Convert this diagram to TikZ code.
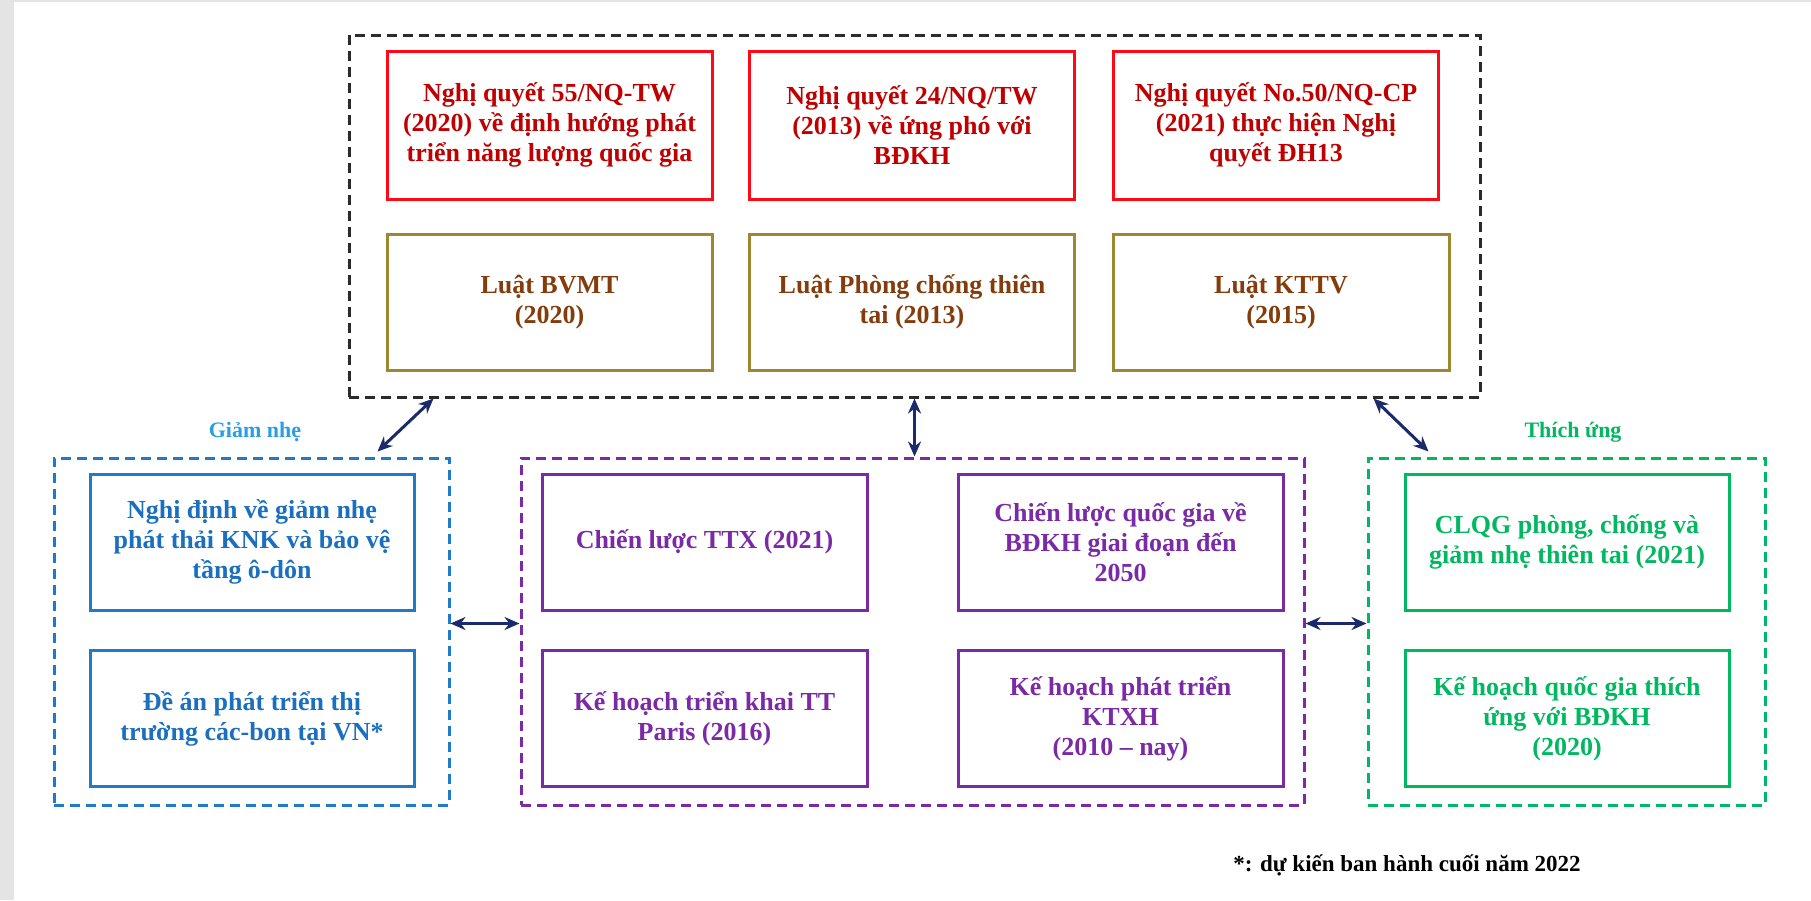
\documentclass[tikz,border=0pt]{standalone}
\usepackage{fontspec}
\setmainfont{Liberation Serif}
\usepackage{tikz}
\usetikzlibrary{arrows.meta}

\definecolor{nenxam}{HTML}{E4E4E4}
\definecolor{vienden}{HTML}{2B2B2B}
\definecolor{viendo}{HTML}{FF0A14}
\definecolor{chudo}{HTML}{C00000}
\definecolor{viennau}{HTML}{9E8633}
\definecolor{chunau}{HTML}{843C0C}
\definecolor{vienxanh}{HTML}{1F7BC8}
\definecolor{chuxanh}{HTML}{1A6FBF}
\definecolor{nhanxanh}{HTML}{2A9EDF}
\definecolor{tim}{HTML}{7B2AA6}
\definecolor{xanhla}{HTML}{00B860}
\definecolor{muitenxanh}{HTML}{1B2A6B}

\begin{document}
\begin{tikzpicture}[x=1pt,y=-1pt,
	khung/.style={draw, line width=3pt, align=center, inner sep=0pt,
		minimum width=325pt, minimum height=136pt,
		font=\bfseries\fontsize{26}{30}\selectfont},
	nhom/.style={draw, line width=3pt, dash pattern=on 10pt off 6pt, inner sep=0pt},
	muiten/.style={{Stealth[length=15pt,width=13pt]}-{Stealth[length=15pt,width=13pt]},
		line width=3pt, muitenxanh}]

	% nen trang
	\useasboundingbox (0,0) rectangle (1811,900);
	\fill[nenxam] (0,0) rectangle (1811,900);
	\fill[white] (14,2) rectangle (1811,900);

	% khung tren: nghi quyet va luat
	\node[nhom, draw=vienden, minimum width=1131pt, minimum height=362pt] (nq) at (914.5,216) {};
	\node[khung, draw=viendo, text=chudo, minimum height=148pt] (nq55) at (549.5,125) {Nghị quyết 55/NQ-TW\\(2020) về định hướng phát\\triển năng lượng quốc gia};
	\node[khung, draw=viendo, text=chudo, minimum height=148pt] (nq24) at (912,125) {Nghị quyết 24/NQ/TW\\(2013) về ứng phó với\\BĐKH};
	\node[khung, draw=viendo, text=chudo, minimum height=148pt] (nq50) at (1276,125) {Nghị quyết No.50/NQ-CP\\(2021) thực hiện Nghị\\quyết ĐH13};
	\node[khung, draw=viennau, text=chunau] (bvmt) at (549.5,302) {Luật BVMT\\(2020)};
	\node[khung, draw=viennau, text=chunau] (pctt) at (912,302) {Luật Phòng chống thiên\\tai (2013)};
	\node[khung, draw=viennau, text=chunau, minimum width=336pt] (kttv) at (1281,302) {Luật KTTV\\(2015)};

	% giam nhe
	\node[nhom, draw=vienxanh, minimum width=395pt, minimum height=347pt] (gn) at (251.5,631.5) {};
	\node[text=nhanxanh, font=\bfseries\fontsize{22}{26}\selectfont] (lblgn) at (255,432) {Giảm nhẹ};
	\node[khung, draw=vienxanh, text=chuxanh, minimum width=324pt] (ndgn) at (252,542) {Nghị định về giảm nhẹ\\phát thải KNK và bảo vệ\\tầng ô-dôn};
	\node[khung, draw=vienxanh, text=chuxanh, minimum width=324pt] (dacb) at (252,718.5) {Đề án phát triển thị\\trường các-bon tại VN*};

	% chien luoc, ke hoach
	\node[nhom, draw=tim, minimum width=783pt, minimum height=347pt] (tt) at (912.5,631.5) {};
	\node[khung, draw=tim, text=tim] (ttx) at (704.5,542) {Chiến lược TTX (2021)};
	\node[khung, draw=tim, text=tim] (clqg) at (1120.5,542) {Chiến lược quốc gia về\\BĐKH giai đoạn đến\\2050};
	\node[khung, draw=tim, text=tim] (paris) at (704.5,718.5) {Kế hoạch triển khai TT\\Paris (2016)};
	\node[khung, draw=tim, text=tim] (ktxh) at (1120.5,718.5) {Kế hoạch phát triển\\KTXH\\(2010 – nay)};

	% thich ung
	\node[nhom, draw=xanhla, minimum width=397pt, minimum height=347pt] (tu) at (1566.5,631.5) {};
	\node[text=xanhla, font=\bfseries\fontsize{22}{26}\selectfont] (lbltu) at (1573,432) {Thích ứng};
	\node[khung, draw=xanhla, text=xanhla, minimum width=324pt] (pctt21) at (1567,542) {CLQG phòng, chống và\\giảm nhẹ thiên tai (2021)};
	\node[khung, draw=xanhla, text=xanhla, minimum width=324pt] (khqg) at (1567,718.5) {Kế hoạch quốc gia thích\\ứng với BĐKH\\(2020)};

	% mui ten hai chieu
	\draw[muiten] ([xshift=86pt]nq.south west) -- ([xshift=-73pt,yshift=5pt]gn.north east);
	\draw[muiten] (nq.south) -- (nq.south |- tt.north);
	\draw[muiten] ([xshift=-108pt]nq.south east) -- ([xshift=62pt,yshift=5pt]tu.north west);
	\draw[muiten] ([yshift=8pt]gn.east) -- ([yshift=8pt]tt.west);
	\draw[muiten] ([yshift=8pt]tt.east) -- ([yshift=8pt]tu.west);

	% ghi chu
	\node[font=\bfseries\fontsize{23}{27}\selectfont] (ghichu) at (1407,865) {*: dự kiến ban hành cuối năm 2022};
\end{tikzpicture}
\end{document}
